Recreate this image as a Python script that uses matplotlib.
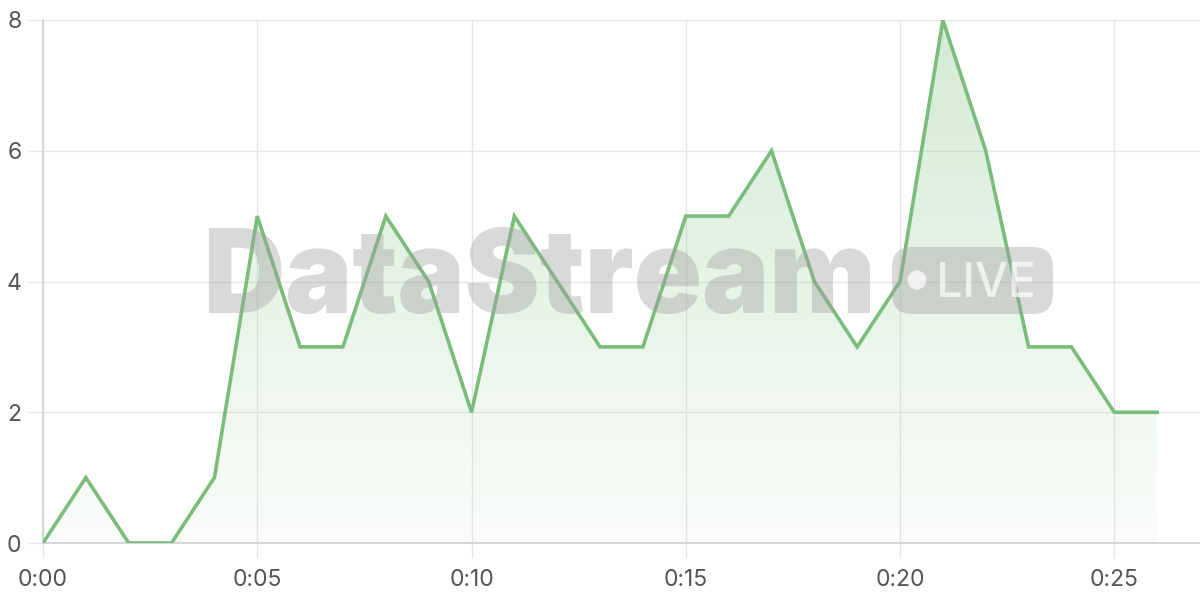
import matplotlib
matplotlib.use("Agg")
import matplotlib.pyplot as plt
import numpy as np
from matplotlib.colors import LinearSegmentedColormap
from matplotlib.patches import Polygon, FancyBboxPatch, PathPatch, Circle
from matplotlib.textpath import TextPath
from matplotlib.font_manager import FontProperties
from matplotlib.transforms import Affine2D, IdentityTransform

minutes = list(range(27))
values = [0, 1, 0, 0, 1, 5, 3, 3, 5, 4, 2, 5, 4, 3, 3, 5, 5, 6, 4, 3, 4, 8, 6, 3, 3, 2, 2]
xtick_pos = [0, 5, 10, 15, 20, 25]
xtick_labels = ["0:00", "0:05", "0:10", "0:15", "0:20", "0:25"]
ytick_pos = [0, 2, 4, 6, 8]

plt.rcParams['font.family'] = ['Inter', 'DejaVu Sans']

W, H = 1200, 600
fig = plt.figure(figsize=(12, 6), dpi=100)
ax = fig.add_axes([43/W, 1 - 543/H, 1 - 43/W, (543 - 20)/H])
ax.set_xlim(0, 27)
ax.set_ylim(0, 8)

line_color = '#7abd7a'

# gradient fill
cmap = LinearSegmentedColormap.from_list('g', [(0.47, 0.75, 0.47, 0.04), (0.47, 0.75, 0.47, 0.32)])
grad = np.linspace(0, 1, 256).reshape(-1, 1)
im = ax.imshow(grad, aspect='auto', cmap=cmap, origin='lower', extent=[0, 27, 0, 8], zorder=1)
verts = [(minutes[0], 0)] + list(zip(minutes, values)) + [(minutes[-1], 0)]
poly = Polygon(verts, closed=True, facecolor='none', edgecolor='none', transform=ax.transData)
ax.add_patch(poly)
im.set_clip_path(poly)

ax.plot(minutes, values, color=line_color, lw=2.6, zorder=4, solid_joinstyle='miter')

# watermark (pixel coordinates, y measured from top)
wm_color = '#a0a0a0'
def fit_text(s, fp, x0, x1, ytop, ybase, ref_char, **kw):
    p = TextPath((0, 0), s, size=1, prop=fp)
    ext = p.get_extents()
    cap = TextPath((0, 0), ref_char, size=1, prop=fp).get_extents().y1
    sx = (x1 - x0) / (ext.x1 - ext.x0)
    sy = (ybase - ytop) / cap
    tr = Affine2D().translate(-ext.x0, 0).scale(sx, sy).translate(x0, H - ybase)
    patch = PathPatch(p, transform=tr, **kw)
    fig.add_artist(patch)

fit_text("DataStream", FontProperties(family='Inter', weight='black'), 209, 870, 228, 313, "D",
         facecolor=wm_color, edgecolor='none', alpha=0.4, zorder=3)

box = FancyBboxPatch((892, H - 314), 1053 - 892, 314 - 247,
                     boxstyle="round,pad=0,rounding_size=20", transform=IdentityTransform(),
                     facecolor=wm_color, alpha=0.4, edgecolor='none', zorder=3)
fig.add_artist(box)
fig.add_artist(Circle((917, H - 280), 9.5, transform=IdentityTransform(), facecolor='white',
                      alpha=0.7, edgecolor='none', zorder=3))
fit_text("LIVE", FontProperties(family='Inter', weight='medium'), 940, 1033, 262, 297, "L",
         facecolor='white', edgecolor='none', alpha=0.7, zorder=3)

# grid & axes
ax.set_xticks(xtick_pos)
ax.set_xticklabels(xtick_labels)
ax.set_yticks(ytick_pos)
ax.set_yticklabels([str(v) for v in ytick_pos])
ax.grid(True, color='#e6e6e6', lw=1, zorder=0)
ax.set_axisbelow(True)
for s in ['top', 'right']:
    ax.spines[s].set_visible(False)
for s in ['left', 'bottom']:
    ax.spines[s].set_color('#d0d0d0')
    ax.spines[s].set_linewidth(1.2)
ax.tick_params(axis='both', length=10.5, width=1, color='#e6e6e6', labelsize=16.5, labelcolor='#555555')
ax.tick_params(axis='x', pad=8)
ax.tick_params(axis='y', pad=5)
ax.set_facecolor('white')

fig.savefig('out.png', dpi=100)
